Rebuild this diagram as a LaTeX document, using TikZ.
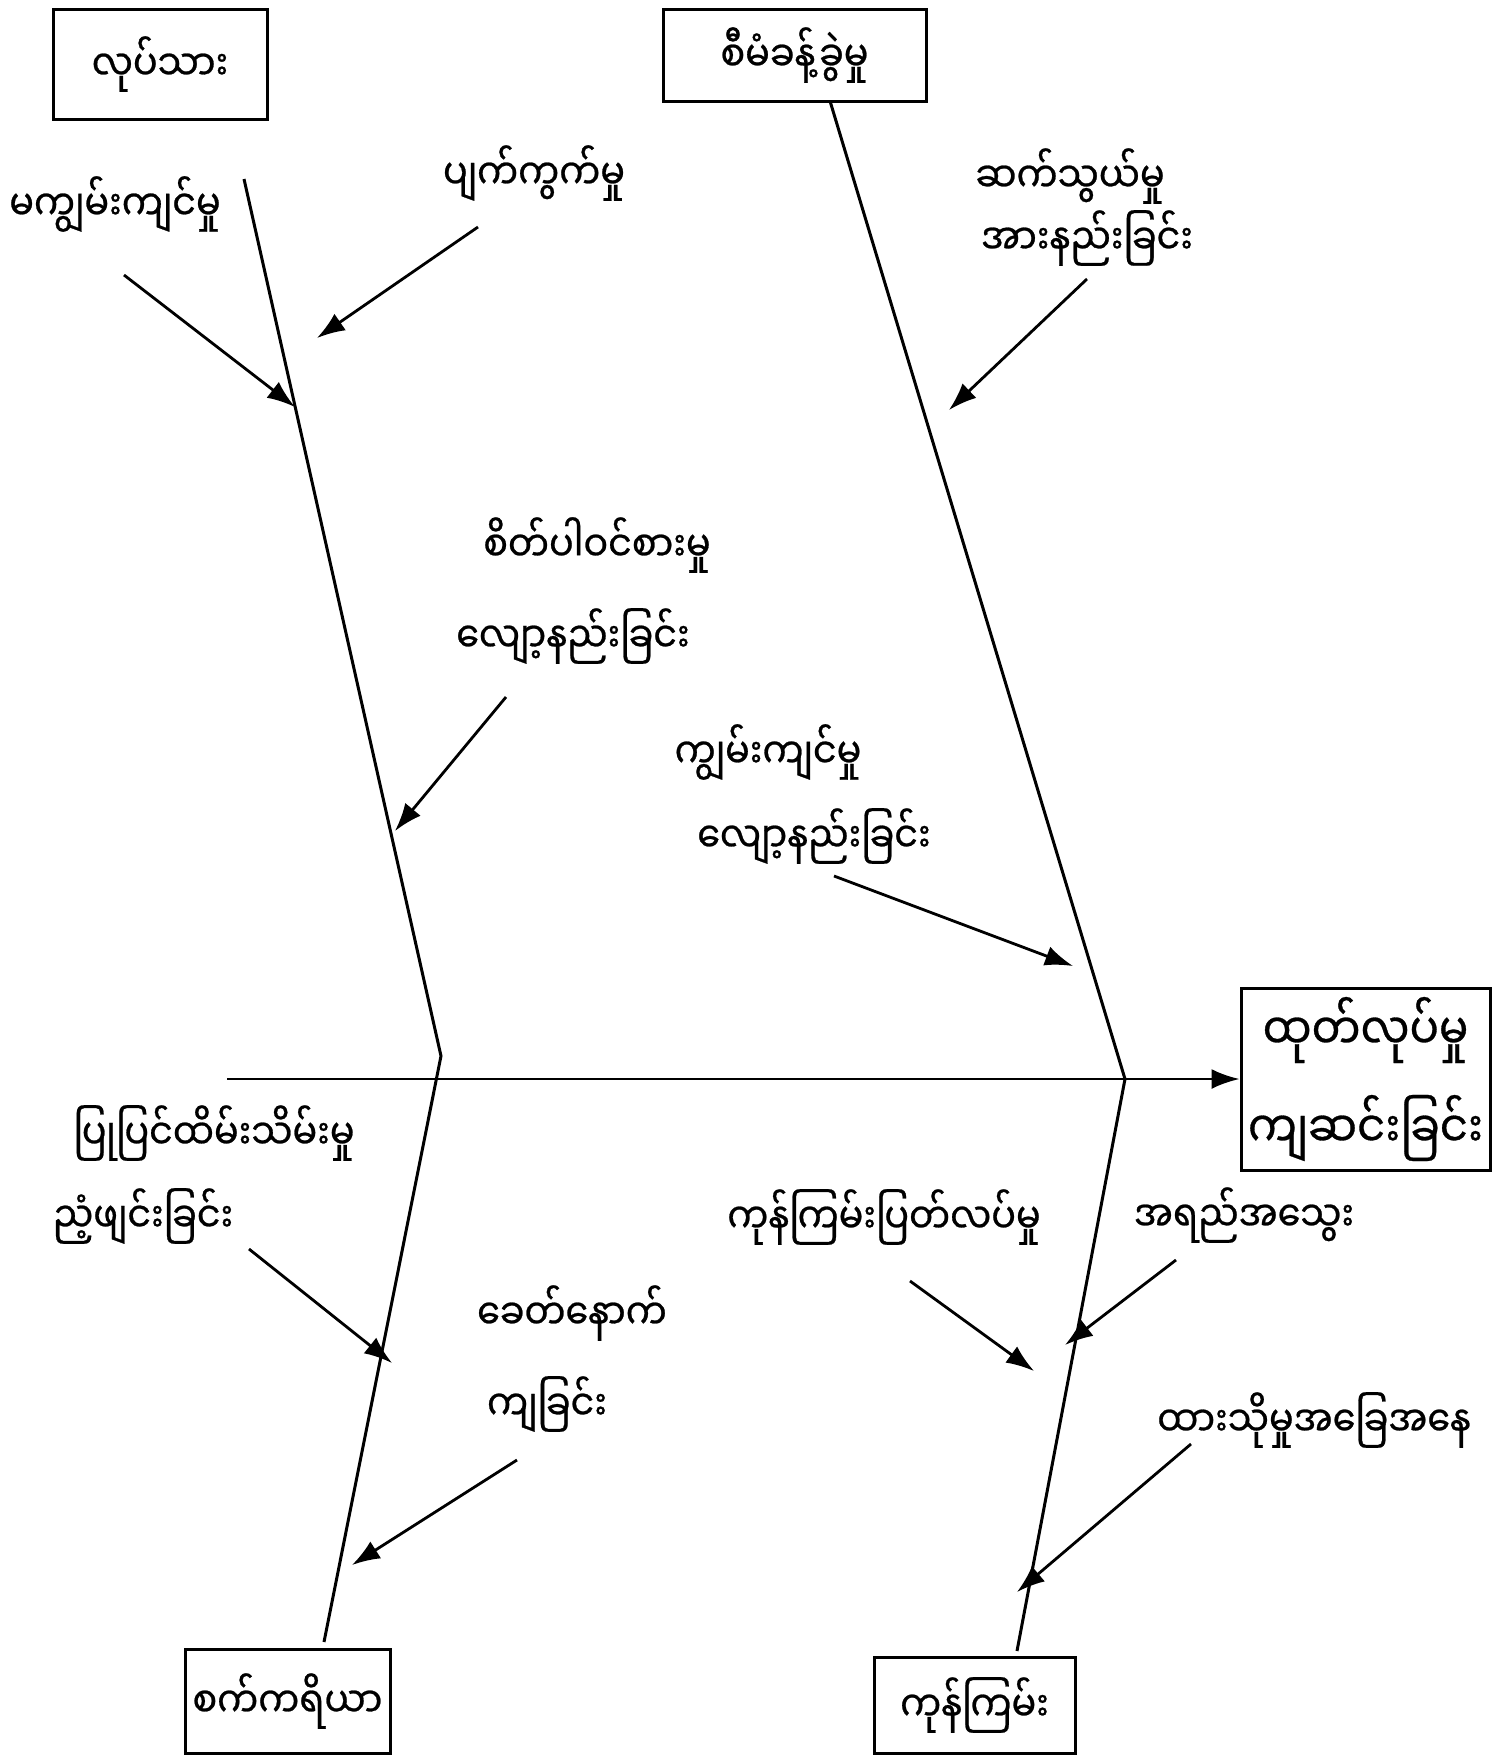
\documentclass[tikz,border=0pt]{standalone}
\usepackage{fontspec}
\newfontfamily\mmfont[Script=Myanmar, FakeStretch=0.87, FakeBold=0.6]{Noto Sans Myanmar UI}
\usetikzlibrary{arrows.meta}

\begin{document}
\begin{tikzpicture}[x=0.5pt, y={(0pt,-0.5pt)},
    every node/.style={font=\mmfont\fontsize{21}{25}\selectfont},
    box/.style={rectangle, draw, line width=1.5pt, inner sep=2pt},
    lbl/.style={inner sep=0pt},
    bone/.style={line width=1.5pt},
    cause/.style={-{Latex[length=14pt, width=10pt]}, line width=1.4pt}]
    \useasboundingbox (0,0) rectangle (1502,1762);

    % category boxes
    \node (worker) [box, minimum width=107pt, minimum height=55pt] at (160,64) {လုပ်သား};
    \node (manage) [box, minimum width=131.5pt, minimum height=46pt] at (794.5,55) {စီမံခန့်ခွဲမှု};
    \node (output) [box, minimum width=124.5pt, minimum height=91pt, align=center,
        font=\mmfont\fontsize{25}{49}\selectfont] at (1365.5,1079) {ထုတ်လုပ်မှု\\ကျဆင်းခြင်း};
    \node (machine) [box, minimum width=102.5pt, minimum height=52pt] at (287.5,1701) {စက်ကရိယာ};
    \node (material) [box, minimum width=100.5pt, minimum height=48pt] at (974.5,1705) {ကုန်ကြမ်း};

    % bones
    \coordinate (tl) at (244,179);
    \coordinate (jl) at (441,1056);
    \coordinate (bl) at (324,1642);
    \coordinate (tr) at (830,101);
    \coordinate (jr) at (1125,1079);
    \coordinate (br) at (1017,1651);
    \coordinate (tail) at (227,1079);

    \draw[bone] (tl) -- (jl) -- (bl);
    \draw[bone] (tr) -- (jr) -- (br);
    \draw[cause] (tail) -- (output.west);

    % causes
    \node (fail) [lbl] at (534,173) {ပျက်ကွက်မှု};
    \node (unskill) [lbl] at (115,204) {မကျွမ်းကျင်မှု};
    \node (comm) [lbl] at (1070,176) {ဆက်သွယ်မှု};
    \node (commweak) [lbl] at (1087,238) {အားနည်းခြင်း};
    \node (interest) [lbl] at (597,545) {စိတ်ပါဝင်စားမှု};
    \node (interestlow) [lbl] at (573,636) {လျော့နည်းခြင်း};
    \node (skill) [lbl] at (768,752) {ကျွမ်းကျင်မှု};
    \node (skilllow) [lbl] at (814,836) {လျော့နည်းခြင်း};
    \node (maint) [lbl] at (214,1133) {ပြုပြင်ထိမ်းသိမ်းမှု};
    \node (maintpoor) [lbl] at (143,1216) {ညံ့ဖျင်းခြင်း};
    \node (dated) [lbl] at (572,1313) {ခေတ်နောက်};
    \node (datedfall) [lbl] at (547,1404) {ကျခြင်း};
    \node (shortage) [lbl] at (884,1217) {ကုန်ကြမ်းပြတ်လပ်မှု};
    \node (quality) [lbl] at (1244,1215) {အရည်အသွေး};
    \node (storage) [lbl] at (1314,1420) {ထားသိုမှုအခြေအနေ};

    \coordinate (fail-from) at (478,227);
    \coordinate (fail-to) at (317,338);
    \coordinate (unskill-from) at (124,275);
    \coordinate (unskill-to) at (295,407);
    \coordinate (comm-from) at (1087,279);
    \coordinate (comm-to) at (949,410);
    \coordinate (interest-from) at (506,697);
    \coordinate (interest-to) at (395,831);
    \coordinate (skill-from) at (834,876);
    \coordinate (skill-to) at (1073,966);
    \coordinate (maint-from) at (249,1249);
    \coordinate (maint-to) at (392,1363);
    \coordinate (dated-from) at (517,1460);
    \coordinate (dated-to) at (352,1565);
    \coordinate (shortage-from) at (910,1281);
    \coordinate (shortage-to) at (1034,1371);
    \coordinate (quality-from) at (1176,1260);
    \coordinate (quality-to) at (1065,1345);
    \coordinate (storage-from) at (1191,1444);
    \coordinate (storage-to) at (1017,1592);

    \draw[cause] (fail-from) -- (fail-to);
    \draw[cause] (unskill-from) -- (unskill-to);
    \draw[cause] (comm-from) -- (comm-to);
    \draw[cause] (interest-from) -- (interest-to);
    \draw[cause] (skill-from) -- (skill-to);
    \draw[cause] (maint-from) -- (maint-to);
    \draw[cause] (dated-from) -- (dated-to);
    \draw[cause] (shortage-from) -- (shortage-to);
    \draw[cause] (quality-from) -- (quality-to);
    \draw[cause] (storage-from) -- (storage-to);
\end{tikzpicture}
\end{document}
